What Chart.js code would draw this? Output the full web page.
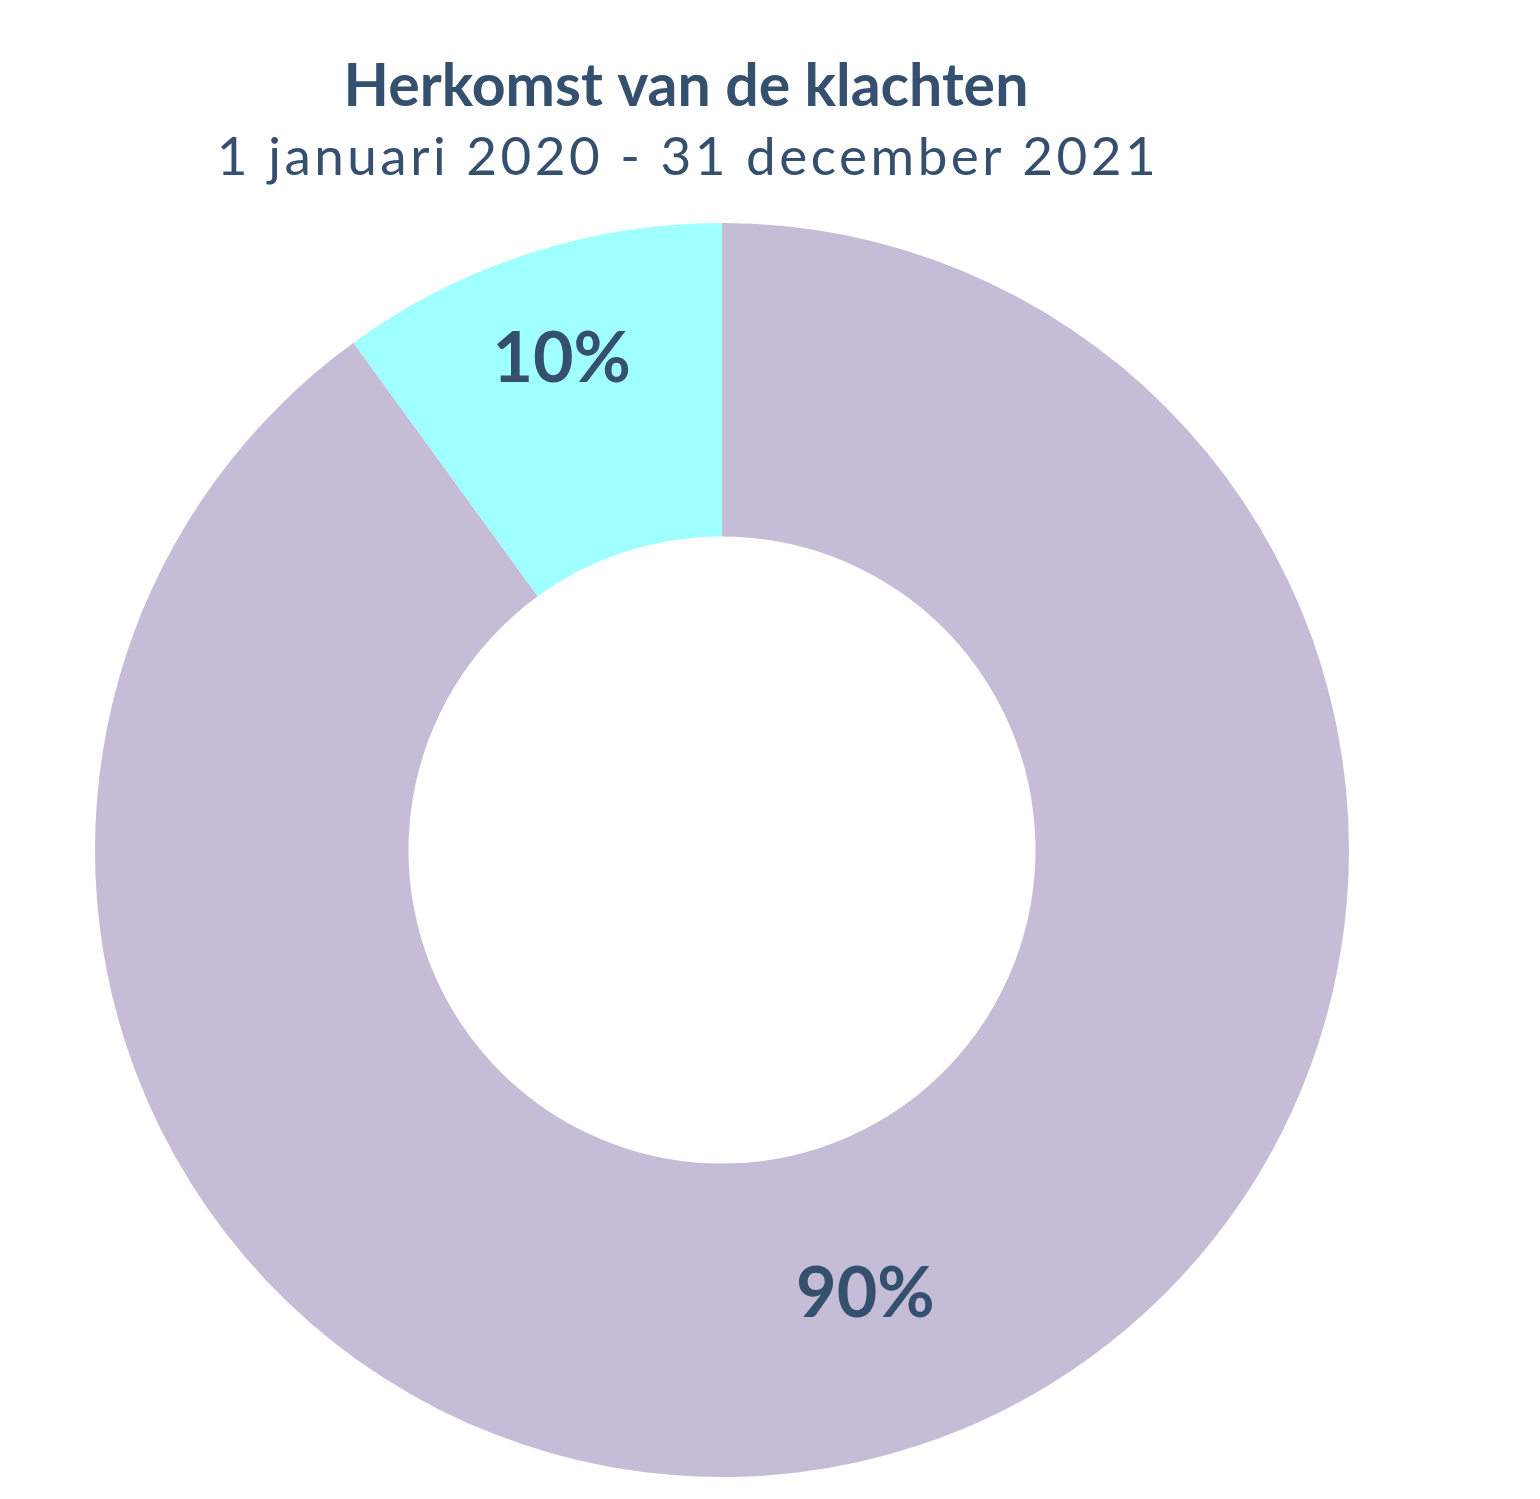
<!DOCTYPE html>
<html>
<head>
<meta charset="utf-8">
<script src="https://cdn.jsdelivr.net/npm/chart.js@4"></script>
<style>
  html, body { margin: 0; padding: 0; background: #fff; }
  #wrap { width: 1540px; height: 1499px; }
</style>
</head>
<body>
<div id="wrap"><canvas id="myChart" width="1540" height="1499"></canvas></div>
<script>
// data
const labels = ['Extern', 'Intern']
const values = [90, 10]
const colors = ['#C5BDD7', '#A0FFFF']
const titleText = 'Herkomst van de klachten'
const subtitleText = '1 januari 2020 - 31 december 2021'

const textColor = '#35506F'

// titel bovenaan (iets links van het midden van de donut)
const titlePlugin = {
  id: 'titels',
  afterDraw(chart) {
    const ctx = chart.ctx
    ctx.save()
    ctx.fillStyle = textColor
    ctx.textAlign = 'center'
    ctx.textBaseline = 'alphabetic'
    ctx.font = 'bold 59px Lato'
    ctx.letterSpacing = '0px'
    ctx.fillText(titleText, 686, 106)
    ctx.font = '53px Lato'
    ctx.letterSpacing = '3.5px'
    ctx.fillText(subtitleText, 688, 175)
    ctx.restore()
  }
}

// percentages in de segmenten
const labelPlugin = {
  id: 'percentages',
  afterDatasetsDraw(chart, args, opts) {
    const ctx = chart.ctx
    const meta = chart.getDatasetMeta(0)
    const total = values.reduce((a, b) => a + b, 0)
    ctx.save()
    ctx.fillStyle = textColor
    ctx.font = 'bold 70px Lato'
    ctx.textAlign = 'center'
    ctx.textBaseline = 'middle'
    meta.data.forEach((arc, i) => {
      const p = arc.getProps(['x', 'y', 'startAngle', 'endAngle', 'innerRadius', 'outerRadius'], true)
      const mid = (p.startAngle + p.endAngle) / 2
      const r = p.innerRadius + (p.outerRadius - p.innerRadius) * opts.pos[i]
      const txt = Math.round(values[i] / total * 100) + '%'
      ctx.fillText(txt, p.x + Math.cos(mid) * r, p.y + Math.sin(mid) * r + 3)
    })
    ctx.restore()
  }
}

new Chart(document.getElementById('myChart'), {
  type: 'doughnut',
  data: {
    labels: labels,
    datasets: [{
      data: values,
      backgroundColor: colors,
      borderWidth: 0,
      hoverOffset: 0
    }]
  },
  options: {
    responsive: false,
    animation: false,
    cutout: '50%',
    layout: { padding: { top: 223, bottom: 22, left: 95, right: 191 } },
    plugins: {
      legend: { display: false },
      tooltip: { enabled: false },
      percentages: { pos: [0.48, 0.655] }
    }
  },
  plugins: [titlePlugin, labelPlugin]
});
</script>
</body>
</html>
